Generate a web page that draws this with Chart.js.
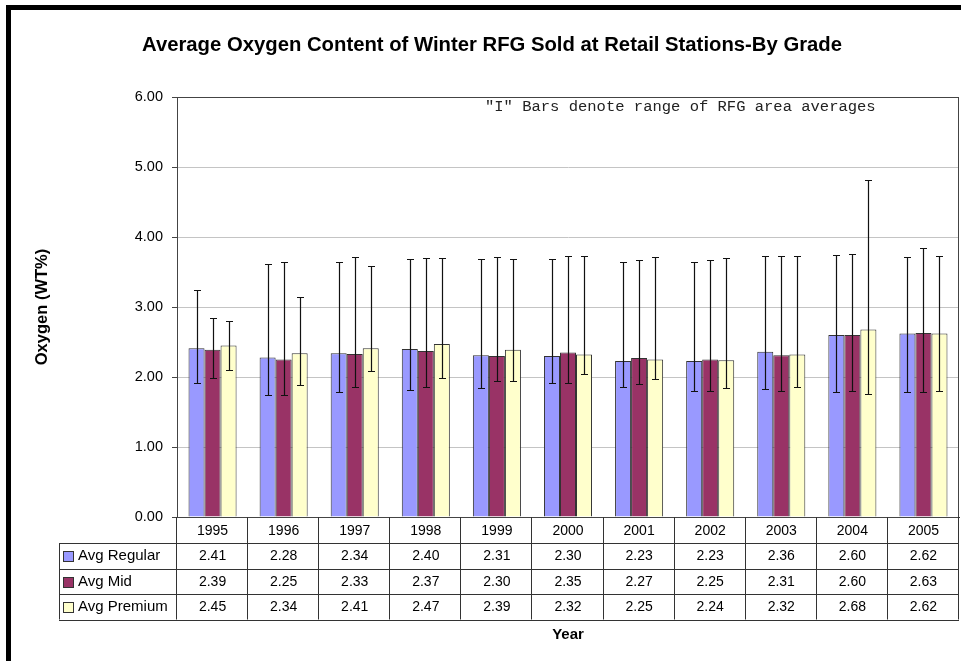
<!DOCTYPE html>
<html>
<head>
<meta charset="utf-8">
<script src="https://cdn.jsdelivr.net/npm/chart.js@4.4.1/dist/chart.umd.min.js"></script>
<style>
  html, body { margin: 0; padding: 0; background: #fff; }
  #wrap { position: relative; width: 961px; height: 661px; overflow: hidden; }
  #frame { position: absolute; left: 6px; top: 5px; width: 1000px; height: 700px;
           border-left: 5px solid #000; border-top: 5px solid #000; pointer-events: none; }
  canvas { position: absolute; left: 0; top: 0; }
</style>
</head>
<body>
<div id="wrap">
  <canvas id="oxyChart" width="961" height="661"></canvas>
  <div id="frame"></div>
</div>
<script>
const chartTitle = 'Average Oxygen Content of Winter RFG Sold at Retail Stations-By Grade';
const noteText = '"I" Bars denote range of RFG area averages';
const yTitle = 'Oxygen (WT%)';
const xTitle = 'Year';

const years = ['1995', '1996', '1997', '1998', '1999', '2000', '2001', '2002', '2003', '2004', '2005'];
const seriesNames = ['Avg Regular', 'Avg Mid', 'Avg Premium'];
const seriesColors = ['#9999ff', '#993366', '#ffffcc'];

const avgRegular = [2.41, 2.28, 2.34, 2.40, 2.31, 2.30, 2.23, 2.23, 2.36, 2.60, 2.62];
const avgMid = [2.39, 2.25, 2.33, 2.37, 2.30, 2.35, 2.27, 2.25, 2.31, 2.60, 2.63];
const avgPremium = [2.45, 2.34, 2.41, 2.47, 2.39, 2.32, 2.25, 2.24, 2.32, 2.68, 2.62];

// range of RFG area averages ("I" bars)
const regularLow = [1.92, 1.74, 1.78, 1.82, 1.85, 1.91, 1.86, 1.80, 1.83, 1.79, 1.78];
const regularHigh = [3.25, 3.62, 3.64, 3.68, 3.68, 3.68, 3.64, 3.64, 3.73, 3.74, 3.71];
const midLow = [1.98, 1.74, 1.86, 1.86, 1.94, 1.92, 1.90, 1.80, 1.80, 1.80, 1.78];
const midHigh = [2.84, 3.64, 3.71, 3.70, 3.71, 3.73, 3.67, 3.67, 3.73, 3.76, 3.84];
const premiumLow = [2.10, 1.88, 2.08, 1.98, 1.95, 2.05, 1.97, 1.85, 1.86, 1.76, 1.80];
const premiumHigh = [2.80, 3.14, 3.58, 3.70, 3.69, 3.73, 3.71, 3.70, 3.73, 4.81, 3.73];

const seriesValues = [avgRegular, avgMid, avgPremium];
const lows = [regularLow, midLow, premiumLow];
const highs = [regularHigh, midHigh, premiumHigh];

const FONT = '"Liberation Sans", Arial, sans-serif';

// error bars + data table + titles
const extras = {
  id: 'extras',
  afterDatasetsDraw(chart) {
    const ctx = chart.ctx;
    const yScale = chart.scales.y;
    ctx.save();
    ctx.strokeStyle = '#111';
    ctx.lineWidth = 1.2;
    seriesValues.forEach((vals, i) => {
      const meta = chart.getDatasetMeta(i);
      meta.data.forEach((bar, j) => {
        const x = Math.round(bar.x) + 0.5;
        const yh = Math.round(yScale.getPixelForValue(highs[i][j])) + 0.5;
        const yl = Math.round(yScale.getPixelForValue(lows[i][j])) + 0.5;
        ctx.beginPath();
        ctx.moveTo(x, yh); ctx.lineTo(x, yl);
        ctx.moveTo(x - 3.5, yh); ctx.lineTo(x + 3.5, yh);
        ctx.moveTo(x - 3.5, yl); ctx.lineTo(x + 3.5, yl);
        ctx.stroke();
      });
    });
    ctx.restore();
  },
  afterDraw(chart) {
    const ctx = chart.ctx;
    const ca = chart.chartArea;
    const xScale = chart.scales.x;
    ctx.save();

    // plot area border
    ctx.strokeStyle = '#444';
    ctx.lineWidth = 1;
    ctx.strokeRect(Math.round(ca.left) + 0.5, Math.round(ca.top) + 0.5,
                   Math.round(ca.right - ca.left) - 1, Math.round(ca.bottom - ca.top));

    // data table
    const n = years.length;
    const catW = (ca.right - ca.left) / n;
    const headTop = ca.bottom;
    const rowsTop = headTop + 26;
    const rowH = 25.5;
    const tableBottom = rowsTop + rowH * 3;
    const tableLeft = ca.left - 118;

    ctx.strokeStyle = '#333';
    ctx.beginPath();
    for (let i = 0; i <= n; i++) {
      const x = Math.round(ca.left + catW * i) - 0.5;
      ctx.moveTo(x, headTop); ctx.lineTo(x, tableBottom);
    }
    ctx.moveTo(tableLeft + 0.5, rowsTop); ctx.lineTo(tableLeft + 0.5, tableBottom);
    for (let r = 0; r <= 3; r++) {
      const y = Math.round(rowsTop + rowH * r) + 0.5;
      ctx.moveTo(tableLeft, y); ctx.lineTo(ca.right, y);
    }
    ctx.stroke();

    ctx.textBaseline = 'middle';
    for (let r = 0; r < 3; r++) {
      const cy = rowsTop + rowH * r + rowH / 2 + 0.5;
      // legend key
      ctx.fillStyle = seriesColors[r];
      ctx.fillRect(tableLeft + 4.5, Math.round(cy - 5) + 0.5, 10, 10);
      ctx.strokeStyle = '#333';
      ctx.strokeRect(tableLeft + 4.5, Math.round(cy - 5) + 0.5, 10, 10);
      ctx.fillStyle = '#000';
      ctx.font = '15px ' + FONT;
      ctx.textAlign = 'left';
      ctx.fillText(seriesNames[r], tableLeft + 19, cy);
      ctx.font = '14px ' + FONT;
      ctx.textAlign = 'center';
      seriesValues[r].forEach((v, j) => {
        ctx.fillText(v.toFixed(2), xScale.getPixelForValue(j), cy);
      });
    }

    // titles
    ctx.fillStyle = '#000';
    ctx.textAlign = 'center';
    ctx.font = 'bold 20.3px ' + FONT;
    ctx.fillText(chartTitle, 492, 45);
    ctx.font = 'bold 15px ' + FONT;
    ctx.fillText(xTitle, (ca.left + ca.right) / 2, 635);
    ctx.textAlign = 'left';
    ctx.fillStyle = '#222';
    ctx.font = '15.5px "Liberation Mono", "Courier New", monospace';
    ctx.fillText(noteText, 485, 107);
    ctx.restore();
  }
};

new Chart('oxyChart', {
  type: 'bar',
  data: {
    labels: years,
    datasets: seriesNames.map((name, i) => ({
      label: name,
      data: seriesValues[i],
      backgroundColor: seriesColors[i],
      borderColor: '#333',
      borderWidth: 1,
      categoryPercentage: 0.676,
      barPercentage: 1.0
    }))
  },
  options: {
    responsive: false,
    animation: false,
    layout: { padding: { left: 0, right: 2, top: 97, bottom: 118 } },
    plugins: {
      legend: { display: false },
      tooltip: { enabled: false }
    },
    scales: {
      x: {
        grid: { display: false },
        border: { color: '#333' },
        ticks: { color: '#000', font: { family: FONT, size: 14 }, padding: -2 },
        afterFit(scale) { scale.height = 26; }
      },
      y: {
        min: 0,
        max: 6,
        ticks: {
          stepSize: 1,
          color: '#000',
          padding: 9,
          font: { family: FONT, size: 14.5 },
          callback: v => v.toFixed(2)
        },
        grid: { color: '#c4c4c4', tickLength: 5, tickColor: '#444' },
        border: { color: '#444' },
        title: {
          display: true,
          text: yTitle,
          color: '#000',
          font: { family: FONT, size: 16.5, weight: 'bold' },
          padding: { top: 33, bottom: 0 }
        },
        afterFit(scale) { scale.width = 177; }
      }
    }
  },
  plugins: [extras]
});
</script>
</body>
</html>
